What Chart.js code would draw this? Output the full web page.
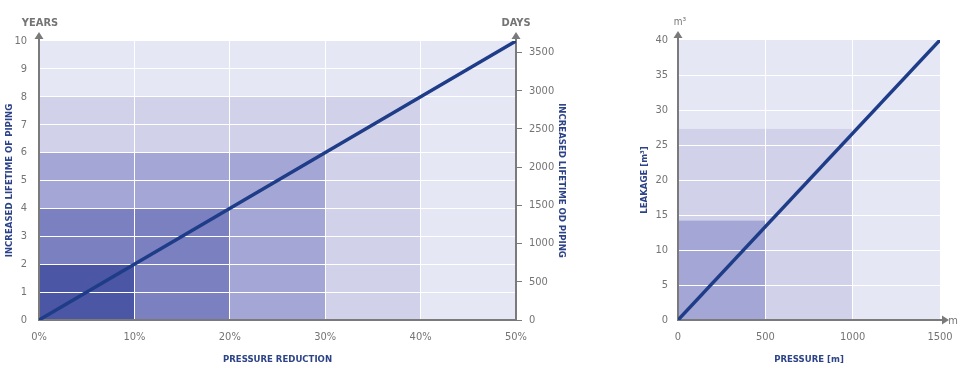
<!DOCTYPE html>
<html>
<head>
<meta charset="utf-8">
<script src="https://cdn.jsdelivr.net/npm/chart.js@4.4.0/dist/chart.umd.min.js"></script>
<style>
  html, body { margin: 0; padding: 0; background: #fff; }
  body { width: 970px; height: 368px; position: relative; overflow: hidden; }
  canvas { position: absolute; top: 0; }
  #lifetime { left: 0; }
  #leakage { left: 620px; }
</style>
</head>
<body>
<canvas id="lifetime" width="600" height="368"></canvas>
<canvas id="leakage" width="350" height="368"></canvas>
<script>
// left chart: pressure reduction vs increased lifetime
const reductionPct = [0, 50];
const lifetimeYears = [0, 10];
const zoneReduction = [50, 40, 30, 20, 10];
const zoneYears = [10, 8, 6, 4, 2];
const daysMax = 3650;
const daysTicks = [0, 500, 1000, 1500, 2000, 2500, 3000, 3500];

// right chart: pressure vs leakage
const pressure = [0, 1500];
const leakage = [0, 40];
const zonePressure = [1500, 1000, 500];
const zoneLeakage = [40, 27.3, 14.2];

const zoneColors = ['#e6e7f4', '#d1d2ea', '#a4a7d5', '#7b80c0', '#4b57a5'];
const lineColor = '#1f3c88';
const axisGray = '#7a7a7a';
const tickGray = '#747474';
const titleBlue = '#2d4387';
const FONT = '"Liberation Sans Narrow", "DejaVu Sans Condensed", Arial, sans-serif';
const TITLE_SIZE = 9.5;

// shaded zones, drawn before the grid so the white lines sit on top
const zonesPlugin = {
  id: 'zones',
  beforeDraw(chart, args, opts) {
    const {ctx, scales: {x, y}} = chart;
    ctx.save();
    opts.xs.forEach((xv, i) => {
      const x0 = x.getPixelForValue(0), x1 = x.getPixelForValue(xv);
      const y0 = y.getPixelForValue(0), y1 = y.getPixelForValue(opts.ys[i]);
      ctx.fillStyle = zoneColors[i];
      ctx.fillRect(x0, y1, x1 - x0, y0 - y1);
    });
    ctx.restore();
  }
};

// axis arrows and the little unit labels
const arrowsPlugin = {
  id: 'arrows',
  afterDraw(chart, args, opts) {
    const {ctx, chartArea: a} = chart;
    ctx.save();
    ctx.fillStyle = axisGray;
    ctx.strokeStyle = axisGray;
    ctx.lineWidth = 2;
    (opts.up || []).forEach(side => {
      const px = side === 'left' ? a.left : a.right;
      ctx.beginPath();
      ctx.moveTo(px, a.top);
      ctx.lineTo(px, a.top - 3);
      ctx.stroke();
      ctx.beginPath();
      ctx.moveTo(px, a.top - 9);
      ctx.lineTo(px - 4.5, a.top - 2);
      ctx.lineTo(px + 4.5, a.top - 2);
      ctx.closePath();
      ctx.fill();
    });
    if (opts.right) {
      ctx.beginPath();
      ctx.moveTo(a.right, a.bottom);
      ctx.lineTo(a.right + 3, a.bottom);
      ctx.stroke();
      ctx.beginPath();
      ctx.moveTo(a.right + 9, a.bottom);
      ctx.lineTo(a.right + 2, a.bottom - 4.5);
      ctx.lineTo(a.right + 2, a.bottom + 4.5);
      ctx.closePath();
      ctx.fill();
    }
    ctx.fillStyle = tickGray;
    ctx.textBaseline = 'middle';
    (opts.labels || []).forEach(l => {
      ctx.font = (l.bold ? 'bold ' : '') + l.size + 'px ' + FONT;
      ctx.textAlign = l.align || 'center';
      const px = l.at === 'left' ? a.left : a.right;
      const py = l.vAt === 'bottom' ? a.bottom : a.top;
      ctx.fillText(l.text, px + l.dx, py + l.dy);
    });
    ctx.restore();
  }
};

const hiddenEdge = (max) => c => (c.tick.value === 0 || c.tick.value === max) ? 'rgba(0,0,0,0)' : '#ffffff';
const plain = v => String(v);

new Chart(document.getElementById('lifetime'), {
  type: 'scatter',
  data: {
    datasets: [{
      data: reductionPct.map((v, i) => ({x: v, y: lifetimeYears[i]})),
      showLine: true,
      borderColor: lineColor,
      borderWidth: 3.5,
      pointRadius: 0
    }]
  },
  options: {
    responsive: false,
    animation: false,
    devicePixelRatio: 1,
    layout: {padding: {top: 41, right: 32, left: 0, bottom: 0}},
    plugins: {
      legend: {display: false},
      tooltip: {enabled: false},
      zones: {xs: zoneReduction, ys: zoneYears},
      arrows: {
        up: ['left', 'right'],
        labels: [
          {text: 'YEARS', at: 'left', dx: 1, dy: -18, size: 11, bold: true},
          {text: 'DAYS', at: 'right', dx: 0, dy: -18, size: 11, bold: true}
        ]
      }
    },
    scales: {
      x: {
        type: 'linear', min: 0, max: 50,
        afterFit: s => { s.height = 48; },
        ticks: {stepSize: 10, padding: 11, color: tickGray, font: {family: FONT, size: 11},
          callback: v => v + '%'},
        grid: {color: hiddenEdge(50), lineWidth: 1, drawTicks: false},
        border: {color: axisGray, width: 2},
        title: {display: true, text: 'PRESSURE REDUCTION', color: titleBlue,
          font: {family: FONT, size: TITLE_SIZE, weight: 'bold'}, padding: {top: 0, bottom: 3}}
      },
      y: {
        type: 'linear', min: 0, max: 10, position: 'left',
        afterFit: s => { s.width = 39; },
        ticks: {stepSize: 1, padding: 12, color: tickGray, font: {family: FONT, size: 11}},
        grid: {color: hiddenEdge(10), lineWidth: 1, drawTicks: false},
        border: {color: axisGray, width: 2},
        title: {display: true, text: 'INCREASED LIFETIME OF PIPING', color: titleBlue,
          font: {family: FONT, size: TITLE_SIZE, weight: 'bold'}, padding: {top: 4, bottom: 0}}
      },
      y2: {
        type: 'linear', min: 0, max: daysMax, position: 'right',
        afterFit: s => { s.width = 52; },
        afterBuildTicks: s => { s.ticks = daysTicks.map(v => ({value: v})); },
        ticks: {padding: 7, color: tickGray, font: {family: FONT, size: 11}, callback: plain},
        grid: {drawOnChartArea: false, drawTicks: true, tickLength: 6, color: axisGray, lineWidth: 1},
        border: {color: axisGray, width: 2},
        title: {display: true, text: 'INCREASED LIFETIME OD PIPING', color: titleBlue,
          font: {family: FONT, size: TITLE_SIZE, weight: 'bold'}, padding: {top: 1, bottom: 0}}
      }
    }
  },
  plugins: [zonesPlugin, arrowsPlugin]
});

new Chart(document.getElementById('leakage'), {
  type: 'scatter',
  data: {
    datasets: [{
      data: pressure.map((v, i) => ({x: v, y: leakage[i]})),
      showLine: true,
      borderColor: lineColor,
      borderWidth: 3.5,
      pointRadius: 0
    }]
  },
  options: {
    responsive: false,
    animation: false,
    devicePixelRatio: 1,
    layout: {padding: {top: 40, right: 30, left: 18, bottom: 0}},
    plugins: {
      legend: {display: false},
      tooltip: {enabled: false},
      zones: {xs: zonePressure, ys: zoneLeakage},
      arrows: {
        up: ['left'],
        right: true,
        labels: [
          {text: 'm³', at: 'left', dx: 2, dy: -18, size: 10, bold: false},
          {text: 'm', at: 'right', vAt: 'bottom', dx: 13, dy: 1, size: 11, bold: false, align: 'center'}
        ]
      }
    },
    scales: {
      x: {
        type: 'linear', min: 0, max: 1500,
        afterFit: s => { s.height = 48; },
        ticks: {stepSize: 500, padding: 11, color: tickGray, font: {family: FONT, size: 11}, callback: plain},
        grid: {color: hiddenEdge(1500), lineWidth: 1, drawTicks: false},
        border: {color: axisGray, width: 2},
        title: {display: true, text: 'PRESSURE [m]', color: titleBlue,
          font: {family: FONT, size: TITLE_SIZE, weight: 'bold'}, padding: {top: 0, bottom: 3}}
      },
      y: {
        type: 'linear', min: 0, max: 40,
        afterFit: s => { s.width = 40; },
        ticks: {stepSize: 5, padding: 10, color: tickGray, font: {family: FONT, size: 11}},
        grid: {color: hiddenEdge(40), lineWidth: 1, drawTicks: false},
        border: {color: axisGray, width: 2},
        title: {display: true, text: 'LEAKAGE [m³]', color: titleBlue,
          font: {family: FONT, size: TITLE_SIZE, weight: 'bold'}, padding: {top: 1, bottom: 0}}
      }
    }
  },
  plugins: [zonesPlugin, arrowsPlugin]
});
</script>
</body>
</html>
